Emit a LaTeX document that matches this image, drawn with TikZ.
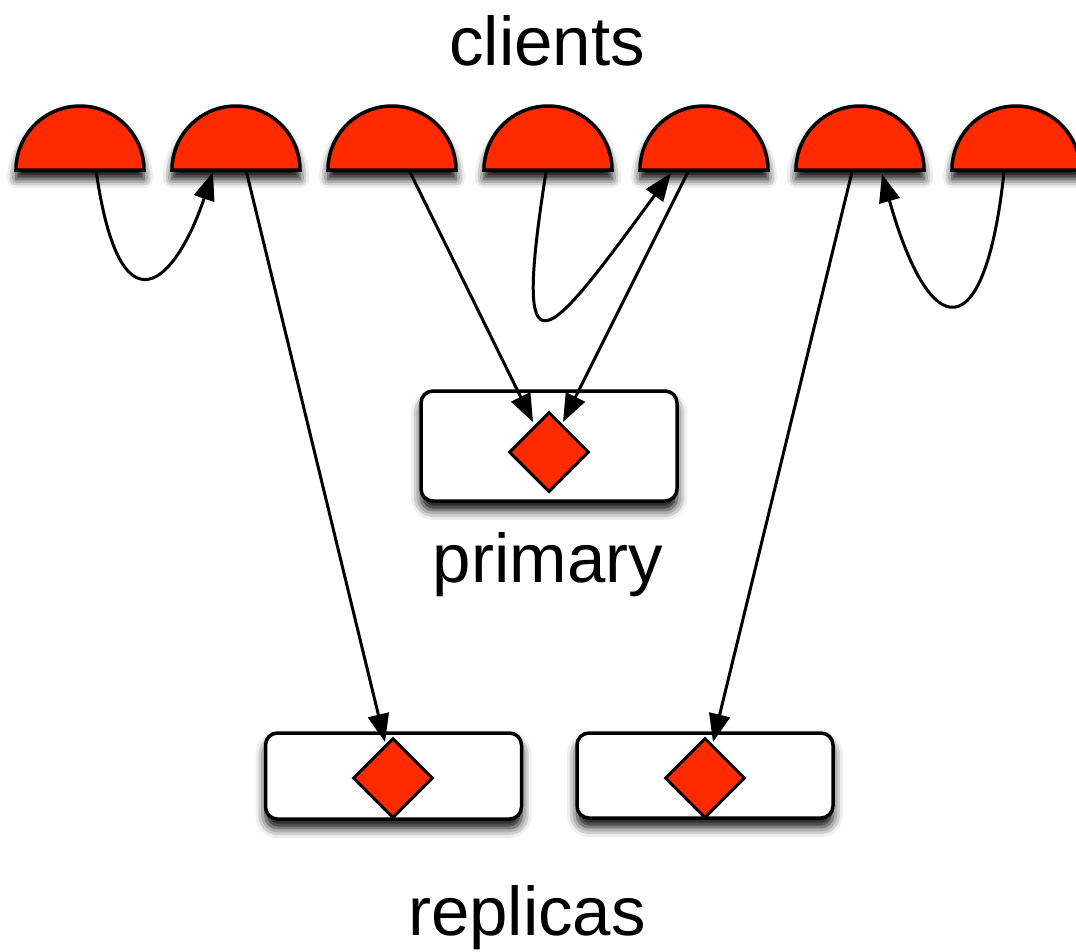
\documentclass[tikz,border=0pt]{standalone}
\usepackage{fontspec}
\setmainfont{Liberation Sans}
\usetikzlibrary{arrows.meta,shapes.geometric,shadows.blur,calc}
\definecolor{cred}{RGB}{255,42,0}
\tikzset{
  clientshape/.style={fill=cred,draw=black,line width=3.5pt,
    blur shadow={shadow xshift=0pt,shadow yshift=-9pt,shadow blur radius=9pt,shadow opacity=100}},
  serverbox/.style={draw=black,fill=white,line width=3.5pt,rounded corners=12pt,
    inner sep=0pt,minimum width=256pt,
    blur shadow={shadow xshift=0pt,shadow yshift=-9pt,shadow blur radius=10pt,shadow opacity=100}},
  gem/.style={diamond,draw=black,fill=cred,line width=3pt,minimum size=80pt,inner sep=0pt},
  link/.style={draw=black,line width=3pt,-{Triangle[length=28pt,width=21pt,fill=black]}},
  lbl/.style={font=\fontsize{69}{80}\selectfont,anchor=base,inner sep=0pt}
}
\begin{document}
\begin{tikzpicture}[x=1pt,y=1pt]
\useasboundingbox (0,0) rectangle (1076,-951);
% clients
\foreach \i/\cx in {1/80,2/236,3/392,4/548,5/704,6/860,7/1016}{
  \coordinate (c\i) at (\cx,-170);
  \path[clientshape] ($(c\i)+(-64,0)$) arc[start angle=180,end angle=0,radius=64] -- cycle;
}
\node[lbl] (tclients) at (547,-65) {clients};
% primary
\node[serverbox,minimum height=110pt] (pbox) at (549,-446) {};
\node[gem] (pd) at (549,-452) {};
\node[lbl] (tprimary) at (548,-582) {primary};
% replicas
\node[serverbox,minimum height=86pt] (r1box) at (393.5,-776) {};
\node[gem] (r1d) at (393,-778) {};
\node[serverbox,minimum height=85pt] (r2box) at (705,-775.5) {};
\node[gem] (r2d) at (705,-778) {};
\node[lbl] (treplicas) at (527,-935) {replicas};
% connectors
\draw[link] ($(c1)+(16,0)$) .. controls (120,-340) and (176,-282) .. ($(c2)+(-23,-2)$);
\draw[link] ($(c2)+(10,0)$) -- ($(r1d)+(-8,36)$);
\draw[link] ($(c3)+(17,0)$) -- ($(pd)+(-16,30)$);
\draw[link] ($(c4)+(-2,-2)$) .. controls (512,-388) and (545,-345) .. ($(c5)+(-33,-3)$);
\draw[link] ($(c5)+(-16,-2)$) -- ($(pd)+(14,30)$);
\draw[link] ($(c6)+(-8,-2)$) -- ($(r2d)+(8,36)$);
\draw[link] ($(c7)+(-12,-2)$) .. controls (985,-350) and (930,-345) .. ($(c6)+(22,-4)$);
\end{tikzpicture}
\end{document}
